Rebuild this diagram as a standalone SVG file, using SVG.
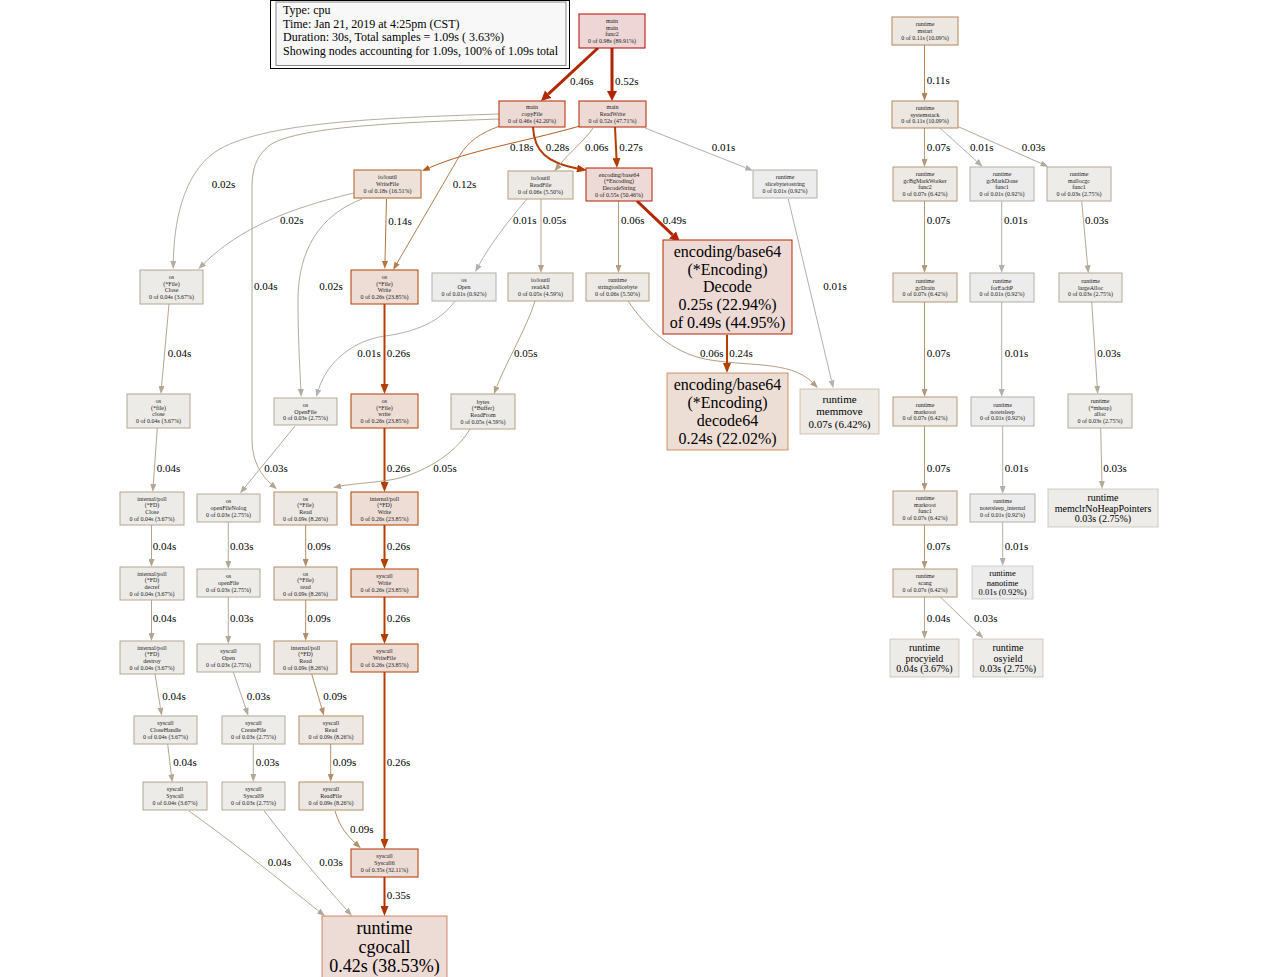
<svg xmlns="http://www.w3.org/2000/svg" width="1263" height="977" viewBox="0 0 1263 977">
<style>
text{font-family:"Liberation Serif","Times New Roman",serif}
.t{font-size:6px;fill:#222;text-anchor:middle}
.big{fill:#000;text-anchor:middle}
.l{font-size:11px;fill:#000}
.lg{font-size:12px;fill:#000}
.e{fill:none;stroke-width:1}
.w2{stroke-width:2}.w3{stroke-width:3}
rect{stroke-width:1}
.leaf{stroke-opacity:0.55}
.k98{fill:#edd6d5;stroke:#b20500}.k46{fill:#eddad5;stroke:#b22800}.k52{fill:#eddad5;stroke:#b22300}
.k55{fill:#edd9d5;stroke:#b22100}.k49{fill:#eddad5;stroke:#b22600}.k42{fill:#eddbd5;stroke:#b22c00}
.k35{fill:#eddcd5;stroke:#b23300}.k26{fill:#edddd5;stroke:#b23e00}.k24{fill:#edded5;stroke:#b24100}
.k18{fill:#ede1d9;stroke:#b25c1f}.k11{fill:#ede7e1;stroke:#b28558}.k09{fill:#ede8e3;stroke:#b28f68}
.k07{fill:#ede9e5;stroke:#b29979}.k06{fill:#edeae6;stroke:#b29d81}.k05{fill:#edebe7;stroke:#b2a289}
.k04{fill:#edebe8;stroke:#b2a691}.k03{fill:#edece9;stroke:#b2aa99}.k01{fill:#edecec;stroke:#b2b0aa}
.c2300{stroke:#b22300}.c2800{stroke:#b22800}.c2600{stroke:#b22600}.c3300{stroke:#b23300}
.c3b00{stroke:#b23b00}.c3d00{stroke:#b23d00}.c3e00{stroke:#b23e00}.c4100{stroke:#b24100}
.c5c1f{stroke:#b25c1f}.c743f{stroke:#b2743f}.c7f50{stroke:#b27f50}.c8558{stroke:#b28558}
.c8f68{stroke:#b28f68}.c9979{stroke:#b29979}.c9d81{stroke:#b29d81}.ca289{stroke:#b2a289}
.ca691{stroke:#b2a691}.caa99{stroke:#b2aa99}.cada2{stroke:#b2ada2}.cb0aa{stroke:#b2b0aa}
</style>
<defs>
<marker id="a2300" viewBox="0 0 10 10" refX="0" refY="5" markerWidth="10" markerHeight="10" markerUnits="userSpaceOnUse" orient="auto"><path d="M0,0L10,5L0,10z" fill="#b22300"/></marker>
<marker id="a2800" viewBox="0 0 10 10" refX="0" refY="5" markerWidth="10" markerHeight="10" markerUnits="userSpaceOnUse" orient="auto"><path d="M0,0L10,5L0,10z" fill="#b22800"/></marker>
<marker id="a2600" viewBox="0 0 10 10" refX="0" refY="5" markerWidth="10" markerHeight="10" markerUnits="userSpaceOnUse" orient="auto"><path d="M0,0L10,5L0,10z" fill="#b22600"/></marker>
<marker id="a3300" viewBox="0 0 10 8" refX="0" refY="4" markerWidth="10" markerHeight="8" markerUnits="userSpaceOnUse" orient="auto"><path d="M0,0L10,4L0,8z" fill="#b23300"/></marker>
<marker id="a3b00" viewBox="0 0 10 8" refX="0" refY="4" markerWidth="10" markerHeight="8" markerUnits="userSpaceOnUse" orient="auto"><path d="M0,0L10,4L0,8z" fill="#b23b00"/></marker>
<marker id="a3d00" viewBox="0 0 10 8" refX="0" refY="4" markerWidth="10" markerHeight="8" markerUnits="userSpaceOnUse" orient="auto"><path d="M0,0L10,4L0,8z" fill="#b23d00"/></marker>
<marker id="a3e00" viewBox="0 0 10 8" refX="0" refY="4" markerWidth="10" markerHeight="8" markerUnits="userSpaceOnUse" orient="auto"><path d="M0,0L10,4L0,8z" fill="#b23e00"/></marker>
<marker id="a4100" viewBox="0 0 10 8" refX="0" refY="4" markerWidth="10" markerHeight="8" markerUnits="userSpaceOnUse" orient="auto"><path d="M0,0L10,4L0,8z" fill="#b24100"/></marker>
<marker id="a5c1f" viewBox="0 0 8 6" refX="0" refY="3" markerWidth="8" markerHeight="6" markerUnits="userSpaceOnUse" orient="auto"><path d="M0,0L8,3L0,6z" fill="#b25c1f"/></marker>
<marker id="a743f" viewBox="0 0 8 6" refX="0" refY="3" markerWidth="8" markerHeight="6" markerUnits="userSpaceOnUse" orient="auto"><path d="M0,0L8,3L0,6z" fill="#b2743f"/></marker>
<marker id="a7f50" viewBox="0 0 8 6" refX="0" refY="3" markerWidth="8" markerHeight="6" markerUnits="userSpaceOnUse" orient="auto"><path d="M0,0L8,3L0,6z" fill="#b27f50"/></marker>
<marker id="a8558" viewBox="0 0 8 6" refX="0" refY="3" markerWidth="8" markerHeight="6" markerUnits="userSpaceOnUse" orient="auto"><path d="M0,0L8,3L0,6z" fill="#b28558"/></marker>
<marker id="a8f68" viewBox="0 0 8 6" refX="0" refY="3" markerWidth="8" markerHeight="6" markerUnits="userSpaceOnUse" orient="auto"><path d="M0,0L8,3L0,6z" fill="#b28f68"/></marker>
<marker id="a9979" viewBox="0 0 8 6" refX="0" refY="3" markerWidth="8" markerHeight="6" markerUnits="userSpaceOnUse" orient="auto"><path d="M0,0L8,3L0,6z" fill="#b29979"/></marker>
<marker id="a9d81" viewBox="0 0 8 6" refX="0" refY="3" markerWidth="8" markerHeight="6" markerUnits="userSpaceOnUse" orient="auto"><path d="M0,0L8,3L0,6z" fill="#b29d81"/></marker>
<marker id="aa289" viewBox="0 0 8 6" refX="0" refY="3" markerWidth="8" markerHeight="6" markerUnits="userSpaceOnUse" orient="auto"><path d="M0,0L8,3L0,6z" fill="#b2a289"/></marker>
<marker id="aa691" viewBox="0 0 8 6" refX="0" refY="3" markerWidth="8" markerHeight="6" markerUnits="userSpaceOnUse" orient="auto"><path d="M0,0L8,3L0,6z" fill="#b2a691"/></marker>
<marker id="aaa99" viewBox="0 0 8 6" refX="0" refY="3" markerWidth="8" markerHeight="6" markerUnits="userSpaceOnUse" orient="auto"><path d="M0,0L8,3L0,6z" fill="#b2aa99"/></marker>
<marker id="aada2" viewBox="0 0 8 6" refX="0" refY="3" markerWidth="8" markerHeight="6" markerUnits="userSpaceOnUse" orient="auto"><path d="M0,0L8,3L0,6z" fill="#b2ada2"/></marker>
<marker id="ab0aa" viewBox="0 0 8 6" refX="0" refY="3" markerWidth="8" markerHeight="6" markerUnits="userSpaceOnUse" orient="auto"><path d="M0,0L8,3L0,6z" fill="#b2b0aa"/></marker>
</defs>
<rect width="1263" height="977" fill="#ffffff" stroke="none"/>

<g id="legend">
<rect x="270.5" y="0.5" width="299" height="68" fill="#ffffff" stroke="#000"/>
<rect x="276" y="2" width="290" height="63.5" fill="#f8f8f8" stroke="#888" stroke-width="1.5"/>
<text class="lg" x="283" y="14">Type: cpu</text>
<text class="lg" x="283" y="28">Time: Jan 21, 2019 at 4:25pm (CST)</text>
<text class="lg" x="283" y="41">Duration: 30s, Total samples = 1.09s ( 3.63%)</text>
<text class="lg" x="283" y="55">Showing nodes accounting for 1.09s, 100% of 1.09s total</text>
</g>

<g id="edges">
<path class="e w3 c2800" marker-end="url(#a2800)" d="M598,48 L548.3,94.2"/>
<path class="e w3 c2300" marker-end="url(#a2300)" d="M612,48 L612,91"/>
<path class="e w2 c3b00" marker-end="url(#a3b00)" d="M533,127 C534,152 548,163 577,168.5"/>
<path class="e c5c1f" marker-end="url(#a5c1f)" d="M580,126 C520,143 470,150 429.3,167.8"/>
<path class="e c9d81" marker-end="url(#a9d81)" d="M593,128 C585,140 570,152 559.4,165.1"/>
<path class="e w2 c3d00" marker-end="url(#a3d00)" d="M615,127 L616.5,158"/>
<path class="e cb0aa" marker-end="url(#ab0aa)" d="M645,128 L745.6,167.7"/>
<path class="e c7f50" marker-end="url(#a7f50)" d="M500,126 C480,133 468,142 460,155 L397.1,263.1"/>
<path class="e cada2" marker-end="url(#aada2)" d="M499,114 C380,118 260,122 215,152 C182,175 174,225 173.3,261"/>
<path class="e ca691" marker-end="url(#aa691)" d="M499,119 C420,122 300,125 270,145 C255,157 252,170 252,190 L252,440 C252,462 262,476 271,484"/>
<path class="e cada2" marker-end="url(#aada2)" d="M354,193 C290,208 240,228 204,263.5"/>
<path class="e c743f" marker-end="url(#a743f)" d="M386.5,199 L385,261"/>
<path class="e cada2" marker-end="url(#aada2)" d="M362,199 C320,215 298,250 298,300 C298,340 300,370 300.8,389"/>
<path class="e cb0aa" marker-end="url(#ab0aa)" d="M455,301 C440,322 415,332 385,336 C355,340 328,360 318.5,389.5"/>
<path class="e cb0aa" marker-end="url(#ab0aa)" d="M527,199 C505,225 490,245 479,265"/>
<path class="e ca289" marker-end="url(#aa289)" d="M541,199 L541,265"/>
<path class="e c9d81" marker-end="url(#a9d81)" d="M618.5,201 L618.5,265"/>
<path class="e w3 c2600" marker-end="url(#a2600)" d="M637,201 L672.6,234.9"/>
<path class="e cb0aa" marker-end="url(#ab0aa)" d="M788.3,199 L831.5,380.5"/>
<path class="e c9d81" marker-end="url(#a9d81)" d="M628,301 C648,330 672,352 705,359 C745,367 790,360 812.3,382.3"/>
<path class="e w2 c4100" marker-end="url(#a4100)" d="M727,335 L727,363"/>
<path class="e w2 c3e00" marker-end="url(#a3e00)" d="M384.5,304 L384.5,384"/>
<path class="e ca289" marker-end="url(#aa289)" d="M535,301 C528,325 505,365 496.7,386.7"/>
<path class="e ca691" marker-end="url(#aa691)" d="M169,304 L161.6,386"/>
<path class="e w2 c3e00" marker-end="url(#a3e00)" d="M384.5,428 L384.5,482"/>
<path class="e ca289" marker-end="url(#aa289)" d="M470,429 C455,455 420,475 390,480 C370,483 350,484 341,486"/>
<path class="e caa99" marker-end="url(#aaa99)" d="M295,426 L245.1,487.1"/>
<path class="e ca691" marker-end="url(#aa691)" d="M157.3,428 L153.3,484"/>
<path class="e ca691" marker-end="url(#aa691)" d="M151.5,525 L151.5,559"/>
<path class="e caa99" marker-end="url(#aaa99)" d="M228.3,522 L228.3,561"/>
<path class="e c8f68" marker-end="url(#a8f68)" d="M305.7,525 L305.7,559"/>
<path class="e w2 c3e00" marker-end="url(#a3e00)" d="M384.5,525 L384.5,559"/>
<path class="e ca691" marker-end="url(#aa691)" d="M151.5,600 L151.5,633"/>
<path class="e caa99" marker-end="url(#aaa99)" d="M228.3,597 L228.3,636"/>
<path class="e c8f68" marker-end="url(#a8f68)" d="M305.7,600 L305.7,633"/>
<path class="e w2 c3e00" marker-end="url(#a3e00)" d="M384.5,597 L384.5,634"/>
<path class="e ca691" marker-end="url(#aa691)" d="M155,674 L160.4,707.8"/>
<path class="e caa99" marker-end="url(#aaa99)" d="M233.3,672 L245.7,708.1"/>
<path class="e c8f68" marker-end="url(#a8f68)" d="M311.7,674 L321.7,708"/>
<path class="e ca691" marker-end="url(#aa691)" d="M167.7,744 L171.3,774.4"/>
<path class="e caa99" marker-end="url(#aaa99)" d="M253.3,744 L253.3,774"/>
<path class="e c8f68" marker-end="url(#a8f68)" d="M330.7,744 L330.7,774"/>
<path class="e w2 c3e00" marker-end="url(#a3e00)" d="M384.5,672 L384.5,839"/>
<path class="e c8f68" marker-end="url(#a8f68)" d="M335,811 C340,828 348,836 355,842.7"/>
<path class="e ca691" marker-end="url(#aa691)" d="M189,811 C230,840 280,880 318.7,911.1"/>
<path class="e caa99" marker-end="url(#aaa99)" d="M264.3,811 C290,845 320,880 346.6,909.8"/>
<path class="e w2 c3300" marker-end="url(#a3300)" d="M384.5,877 L384.5,906"/>
<path class="e c8558" marker-end="url(#a8558)" d="M924.5,45 L924.5,93"/>
<path class="e c9979" marker-end="url(#a9979)" d="M924.5,128 L924.5,159"/>
<path class="e cb0aa" marker-end="url(#ab0aa)" d="M940,128 L976.7,161.3"/>
<path class="e caa99" marker-end="url(#aaa99)" d="M958.3,126.7 L1041,163.4"/>
<path class="e c9979" marker-end="url(#a9979)" d="M924.5,201 L924.5,265"/>
<path class="e cb0aa" marker-end="url(#ab0aa)" d="M1001.7,201 L1001.7,265"/>
<path class="e caa99" marker-end="url(#aaa99)" d="M1081.7,201.3 L1087.6,265.3"/>
<path class="e c9979" marker-end="url(#a9979)" d="M924.5,302 L924.5,389"/>
<path class="e cb0aa" marker-end="url(#ab0aa)" d="M1001.7,302 L1001.7,389"/>
<path class="e caa99" marker-end="url(#aaa99)" d="M1091.7,301.7 L1097.2,386"/>
<path class="e c9979" marker-end="url(#a9979)" d="M924.5,426 L924.5,483"/>
<path class="e cb0aa" marker-end="url(#ab0aa)" d="M1002.7,426 L1002.7,486"/>
<path class="e caa99" marker-end="url(#aaa99)" d="M1100.7,428 L1101.9,481"/>
<path class="e c9979" marker-end="url(#a9979)" d="M924.5,525 L924.5,561"/>
<path class="e cb0aa" marker-end="url(#ab0aa)" d="M1002.7,522 L1002.7,558"/>
<path class="e ca691" marker-end="url(#aa691)" d="M924.5,597 L924.5,631"/>
<path class="e caa99" marker-end="url(#aaa99)" d="M940,596.7 L977.5,632.8"/>
<g id="edge-labels">
<text class="l" x="570" y="85">0.46s</text>
<text class="l" x="615" y="85">0.52s</text>
<text class="l" x="510" y="151">0.18s</text>
<text class="l" x="545.7" y="151">0.28s</text>
<text class="l" x="585" y="151">0.06s</text>
<text class="l" x="619.3" y="151">0.27s</text>
<text class="l" x="711.7" y="151">0.01s</text>
<text class="l" x="452.7" y="188">0.12s</text>
<text class="l" x="211.7" y="188">0.02s</text>
<text class="l" x="280" y="224">0.02s</text>
<text class="l" x="388.3" y="225">0.14s</text>
<text class="l" x="513" y="224">0.01s</text>
<text class="l" x="542.7" y="224">0.05s</text>
<text class="l" x="621" y="224">0.06s</text>
<text class="l" x="662.7" y="224">0.49s</text>
<text class="l" x="254" y="290">0.04s</text>
<text class="l" x="319.3" y="290">0.02s</text>
<text class="l" x="823.3" y="290">0.01s</text>
<text class="l" x="167.7" y="357">0.04s</text>
<text class="l" x="357.3" y="357">0.01s</text>
<text class="l" x="386.7" y="357">0.26s</text>
<text class="l" x="514" y="357">0.05s</text>
<text class="l" x="700" y="357" font-size="10">0.06s</text>
<text class="l" x="729.3" y="357" font-size="10">0.24s</text>
<text class="l" x="156.7" y="472">0.04s</text>
<text class="l" x="264.3" y="472">0.03s</text>
<text class="l" x="386.7" y="472">0.26s</text>
<text class="l" x="433.3" y="472">0.05s</text>
<text class="l" x="152.7" y="550">0.04s</text>
<text class="l" x="230" y="550">0.03s</text>
<text class="l" x="307.3" y="550">0.09s</text>
<text class="l" x="386.7" y="550">0.26s</text>
<text class="l" x="152.7" y="622">0.04s</text>
<text class="l" x="230" y="622">0.03s</text>
<text class="l" x="307.3" y="622">0.09s</text>
<text class="l" x="386.7" y="622">0.26s</text>
<text class="l" x="162.3" y="700">0.04s</text>
<text class="l" x="246.7" y="700">0.03s</text>
<text class="l" x="323.3" y="700">0.09s</text>
<text class="l" x="173.3" y="766">0.04s</text>
<text class="l" x="255.7" y="766">0.03s</text>
<text class="l" x="332.7" y="766">0.09s</text>
<text class="l" x="386.7" y="766">0.26s</text>
<text class="l" x="350" y="833">0.09s</text>
<text class="l" x="267.7" y="866">0.04s</text>
<text class="l" x="319.3" y="866">0.03s</text>
<text class="l" x="386.7" y="899">0.35s</text>
<text class="l" x="926.7" y="84">0.11s</text>
<text class="l" x="926.7" y="151">0.07s</text>
<text class="l" x="970" y="151">0.01s</text>
<text class="l" x="1021.7" y="151">0.03s</text>
<text class="l" x="926.7" y="224">0.07s</text>
<text class="l" x="1004" y="224">0.01s</text>
<text class="l" x="1085" y="224">0.03s</text>
<text class="l" x="926.7" y="357">0.07s</text>
<text class="l" x="1004.7" y="357">0.01s</text>
<text class="l" x="1097.3" y="357">0.03s</text>
<text class="l" x="926.7" y="472">0.07s</text>
<text class="l" x="1004.7" y="472">0.01s</text>
<text class="l" x="1103.3" y="472">0.03s</text>
<text class="l" x="926.7" y="550">0.07s</text>
<text class="l" x="1004.7" y="550">0.01s</text>
<text class="l" x="926.7" y="622">0.04s</text>
<text class="l" x="974" y="622">0.03s</text>
</g>
</g>

<g id="node-main-func2"><rect class="k98" x="579" y="14" width="66" height="34"/><text class="t" y="23"><tspan x="612">main</tspan><tspan x="612" dy="6.7">main</tspan><tspan x="612" dy="6.7">func2</tspan><tspan x="612" dy="6.7">0 of 0.98s (89.91%)</tspan></text></g>
<g id="node-main-copyFile"><rect class="k46" x="499" y="101" width="66" height="26"/><text class="t" y="109.3"><tspan x="532">main</tspan><tspan x="532" dy="6.7">copyFile</tspan><tspan x="532" dy="6.7">0 of 0.46s (42.20%)</tspan></text></g>
<g id="node-main-ReadWrite"><rect class="k52" x="579" y="101" width="67" height="26"/><text class="t" y="109.3"><tspan x="612.5">main</tspan><tspan x="612.5" dy="6.7">ReadWrite</tspan><tspan x="612.5" dy="6.7">0 of 0.52s (47.71%)</tspan></text></g>
<g id="node-ioutil-WriteFile"><rect class="k18" x="354" y="170" width="67" height="28"/><text class="t" y="179.3"><tspan x="387.5">io/ioutil</tspan><tspan x="387.5" dy="6.7">WriteFile</tspan><tspan x="387.5" dy="6.7">0 of 0.18s (16.51%)</tspan></text></g>
<g id="node-ioutil-ReadFile"><rect class="k06" x="508" y="171" width="65" height="28"/><text class="t" y="180.3"><tspan x="540.5">io/ioutil</tspan><tspan x="540.5" dy="6.7">ReadFile</tspan><tspan x="540.5" dy="6.7">0 of 0.06s (5.50%)</tspan></text></g>
<g id="node-base64-DecodeString"><rect class="k55" x="586" y="168" width="66" height="33"/><text class="t" y="176.5"><tspan x="619">encoding/base64</tspan><tspan x="619" dy="6.7">(*Encoding)</tspan><tspan x="619" dy="6.7">DecodeString</tspan><tspan x="619" dy="6.7">0 of 0.55s (50.46%)</tspan></text></g>
<g id="node-runtime-slicebytetostring"><rect class="k01" x="753" y="170" width="64" height="28"/><text class="t" y="179.3"><tspan x="785">runtime</tspan><tspan x="785" dy="6.7">slicebytetostring</tspan><tspan x="785" dy="6.7">0 of 0.01s (0.92%)</tspan></text></g>
<g id="node-base64-Decode"><rect class="k49" x="663" y="240" width="129" height="94"/><text class="big" font-size="16" y="257"><tspan x="727.5">encoding/base64</tspan><tspan x="727.5" dy="17.7">(*Encoding)</tspan><tspan x="727.5" dy="17.7">Decode</tspan><tspan x="727.5" dy="17.7">0.25s (22.94%)</tspan><tspan x="727.5" dy="17.7">of 0.49s (44.95%)</tspan></text></g>
<g id="node-os-File-Close"><rect class="k04" x="140" y="270" width="63" height="34"/><text class="t" y="279"><tspan x="171.5">os</tspan><tspan x="171.5" dy="6.7">(*File)</tspan><tspan x="171.5" dy="6.7">Close</tspan><tspan x="171.5" dy="6.7">0 of 0.04s (3.67%)</tspan></text></g>
<g id="node-os-File-Write"><rect class="k26" x="351" y="270" width="67" height="34"/><text class="t" y="279"><tspan x="384.5">os</tspan><tspan x="384.5" dy="6.7">(*File)</tspan><tspan x="384.5" dy="6.7">Write</tspan><tspan x="384.5" dy="6.7">0 of 0.26s (23.85%)</tspan></text></g>
<g id="node-os-Open"><rect class="k01" x="432" y="273" width="64" height="28"/><text class="t" y="282.3"><tspan x="464">os</tspan><tspan x="464" dy="6.7">Open</tspan><tspan x="464" dy="6.7">0 of 0.01s (0.92%)</tspan></text></g>
<g id="node-ioutil-readAll"><rect class="k05" x="508" y="273" width="65" height="28"/><text class="t" y="282.3"><tspan x="540.5">io/ioutil</tspan><tspan x="540.5" dy="6.7">readAll</tspan><tspan x="540.5" dy="6.7">0 of 0.05s (4.59%)</tspan></text></g>
<g id="node-runtime-stringtoslicebyte"><rect class="k06" x="586" y="273" width="63" height="28"/><text class="t" y="282.3"><tspan x="617.5">runtime</tspan><tspan x="617.5" dy="6.7">stringtoslicebyte</tspan><tspan x="617.5" dy="6.7">0 of 0.06s (5.50%)</tspan></text></g>
<g id="node-runtime-mstart"><rect class="k11" x="892" y="17" width="66" height="28"/><text class="t" y="26.3"><tspan x="925">runtime</tspan><tspan x="925" dy="6.7">mstart</tspan><tspan x="925" dy="6.7">0 of 0.11s (10.09%)</tspan></text></g>
<g id="node-runtime-systemstack"><rect class="k11" x="892" y="101" width="66" height="27"/><text class="t" y="109.8"><tspan x="925">runtime</tspan><tspan x="925" dy="6.7">systemstack</tspan><tspan x="925" dy="6.7">0 of 0.11s (10.09%)</tspan></text></g>
<g id="node-runtime-gcBgMarkWorker-func2"><rect class="k07" x="893" y="167" width="64" height="34"/><text class="t" y="176"><tspan x="925">runtime</tspan><tspan x="925" dy="6.7">gcBgMarkWorker</tspan><tspan x="925" dy="6.7">func2</tspan><tspan x="925" dy="6.7">0 of 0.07s (6.42%)</tspan></text></g>
<g id="node-runtime-gcMarkDone-func1"><rect class="k01" x="970" y="167" width="64" height="34"/><text class="t" y="176"><tspan x="1002">runtime</tspan><tspan x="1002" dy="6.7">gcMarkDone</tspan><tspan x="1002" dy="6.7">func1</tspan><tspan x="1002" dy="6.7">0 of 0.01s (0.92%)</tspan></text></g>
<g id="node-runtime-mallocgc-func1"><rect class="k03" x="1047" y="167" width="64" height="34"/><text class="t" y="176"><tspan x="1079">runtime</tspan><tspan x="1079" dy="6.7">mallocgc</tspan><tspan x="1079" dy="6.7">func1</tspan><tspan x="1079" dy="6.7">0 of 0.03s (2.75%)</tspan></text></g>
<g id="node-runtime-gcDrain"><rect class="k07" x="893" y="273" width="64" height="29"/><text class="t" y="282.8"><tspan x="925">runtime</tspan><tspan x="925" dy="6.7">gcDrain</tspan><tspan x="925" dy="6.7">0 of 0.07s (6.42%)</tspan></text></g>
<g id="node-runtime-forEachP"><rect class="k01" x="970" y="273" width="64" height="29"/><text class="t" y="282.8"><tspan x="1002">runtime</tspan><tspan x="1002" dy="6.7">forEachP</tspan><tspan x="1002" dy="6.7">0 of 0.01s (0.92%)</tspan></text></g>
<g id="node-runtime-largeAlloc"><rect class="k03" x="1059" y="273" width="63" height="29"/><text class="t" y="282.8"><tspan x="1090.5">runtime</tspan><tspan x="1090.5" dy="6.7">largeAlloc</tspan><tspan x="1090.5" dy="6.7">0 of 0.03s (2.75%)</tspan></text></g>
<g id="node-runtime-markroot"><rect class="k07" x="893" y="397" width="64" height="29"/><text class="t" y="406.8"><tspan x="925">runtime</tspan><tspan x="925" dy="6.7">markroot</tspan><tspan x="925" dy="6.7">0 of 0.07s (6.42%)</tspan></text></g>
<g id="node-runtime-notetsleep"><rect class="k01" x="971" y="397" width="63" height="29"/><text class="t" y="406.8"><tspan x="1002.5">runtime</tspan><tspan x="1002.5" dy="6.7">notetsleep</tspan><tspan x="1002.5" dy="6.7">0 of 0.01s (0.92%)</tspan></text></g>
<g id="node-runtime-mheap-alloc"><rect class="k03" x="1068" y="394" width="64" height="34"/><text class="t" y="403"><tspan x="1100">runtime</tspan><tspan x="1100" dy="6.7">(*mheap)</tspan><tspan x="1100" dy="6.7">alloc</tspan><tspan x="1100" dy="6.7">0 of 0.03s (2.75%)</tspan></text></g>
<g id="node-runtime-memclrNoHeapPointers"><rect class="k03 leaf" x="1048" y="489" width="110" height="38"/><text class="big" font-size="10" y="501"><tspan x="1103">runtime</tspan><tspan x="1103" dy="10.5">memclrNoHeapPointers</tspan><tspan x="1103" dy="10.5">0.03s (2.75%)</tspan></text></g>
<g id="node-runtime-markroot-func1"><rect class="k07" x="893" y="491" width="64" height="34"/><text class="t" y="500"><tspan x="925">runtime</tspan><tspan x="925" dy="6.7">markroot</tspan><tspan x="925" dy="6.7">func1</tspan><tspan x="925" dy="6.7">0 of 0.07s (6.42%)</tspan></text></g>
<g id="node-runtime-notetsleep_internal"><rect class="k01" x="970" y="494" width="65" height="28"/><text class="t" y="503.3"><tspan x="1002.5">runtime</tspan><tspan x="1002.5" dy="6.7">notetsleep_internal</tspan><tspan x="1002.5" dy="6.7">0 of 0.01s (0.92%)</tspan></text></g>
<g id="node-runtime-nanotime"><rect class="k01 leaf" x="972" y="566" width="61" height="33"/><text class="big" font-size="8.5" y="576"><tspan x="1002.5">runtime</tspan><tspan x="1002.5" dy="9.5">nanotime</tspan><tspan x="1002.5" dy="9.5">0.01s (0.92%)</tspan></text></g>
<g id="node-runtime-scang"><rect class="k07" x="893" y="569" width="64" height="28"/><text class="t" y="578.3"><tspan x="925">runtime</tspan><tspan x="925" dy="6.7">scang</tspan><tspan x="925" dy="6.7">0 of 0.07s (6.42%)</tspan></text></g>
<g id="node-runtime-procyield"><rect class="k04 leaf" x="890" y="639" width="69" height="38"/><text class="big" font-size="10" y="651"><tspan x="924.5">runtime</tspan><tspan x="924.5" dy="10.5">procyield</tspan><tspan x="924.5" dy="10.5">0.04s (3.67%)</tspan></text></g>
<g id="node-runtime-osyield"><rect class="k03 leaf" x="973" y="639" width="70" height="38"/><text class="big" font-size="10" y="651"><tspan x="1008">runtime</tspan><tspan x="1008" dy="10.5">osyield</tspan><tspan x="1008" dy="10.5">0.03s (2.75%)</tspan></text></g>
<g id="node-os-file-close"><rect class="k04" x="127" y="394" width="63" height="34"/><text class="t" y="403"><tspan x="158.5">os</tspan><tspan x="158.5" dy="6.7">(*file)</tspan><tspan x="158.5" dy="6.7">close</tspan><tspan x="158.5" dy="6.7">0 of 0.04s (3.67%)</tspan></text></g>
<g id="node-os-OpenFile"><rect class="k03" x="274" y="398" width="63" height="27"/><text class="t" y="406.8"><tspan x="305.5">os</tspan><tspan x="305.5" dy="6.7">OpenFile</tspan><tspan x="305.5" dy="6.7">0 of 0.03s (2.75%)</tspan></text></g>
<g id="node-os-File-write"><rect class="k26" x="351" y="394" width="67" height="34"/><text class="t" y="403"><tspan x="384.5">os</tspan><tspan x="384.5" dy="6.7">(*File)</tspan><tspan x="384.5" dy="6.7">write</tspan><tspan x="384.5" dy="6.7">0 of 0.26s (23.85%)</tspan></text></g>
<g id="node-bytes-Buffer-ReadFrom"><rect class="k05" x="451" y="394" width="64" height="35"/><text class="t" y="403.5"><tspan x="483">bytes</tspan><tspan x="483" dy="6.7">(*Buffer)</tspan><tspan x="483" dy="6.7">ReadFrom</tspan><tspan x="483" dy="6.7">0 of 0.05s (4.59%)</tspan></text></g>
<g id="node-runtime-memmove"><rect class="k07 leaf" x="800" y="389" width="79" height="45"/><text class="big" font-size="11" y="402.7"><tspan x="839.5">runtime</tspan><tspan x="839.5" dy="12.5">memmove</tspan><tspan x="839.5" dy="12.5">0.07s (6.42%)</tspan></text></g>
<g id="node-base64-decode64"><rect class="k24 leaf" x="667" y="373" width="121" height="77"/><text class="big" font-size="16" y="390"><tspan x="727.5">encoding/base64</tspan><tspan x="727.5" dy="18">(*Encoding)</tspan><tspan x="727.5" dy="18">decode64</tspan><tspan x="727.5" dy="18">0.24s (22.02%)</tspan></text></g>
<g id="node-poll-FD-Close"><rect class="k04" x="120" y="492" width="64" height="33"/><text class="t" y="500.5"><tspan x="152">internal/poll</tspan><tspan x="152" dy="6.7">(*FD)</tspan><tspan x="152" dy="6.7">Close</tspan><tspan x="152" dy="6.7">0 of 0.04s (3.67%)</tspan></text></g>
<g id="node-os-openFileNolog"><rect class="k03" x="197" y="494" width="63" height="28"/><text class="t" y="503.3"><tspan x="228.5">os</tspan><tspan x="228.5" dy="6.7">openFileNolog</tspan><tspan x="228.5" dy="6.7">0 of 0.03s (2.75%)</tspan></text></g>
<g id="node-os-File-Read"><rect class="k09" x="274" y="492" width="63" height="33"/><text class="t" y="500.5"><tspan x="305.5">os</tspan><tspan x="305.5" dy="6.7">(*File)</tspan><tspan x="305.5" dy="6.7">Read</tspan><tspan x="305.5" dy="6.7">0 of 0.09s (8.26%)</tspan></text></g>
<g id="node-poll-FD-Write"><rect class="k26" x="351" y="492" width="67" height="33"/><text class="t" y="500.5"><tspan x="384.5">internal/poll</tspan><tspan x="384.5" dy="6.7">(*FD)</tspan><tspan x="384.5" dy="6.7">Write</tspan><tspan x="384.5" dy="6.7">0 of 0.26s (23.85%)</tspan></text></g>
<g id="node-poll-FD-decref"><rect class="k04" x="120" y="567" width="64" height="33"/><text class="t" y="575.5"><tspan x="152">internal/poll</tspan><tspan x="152" dy="6.7">(*FD)</tspan><tspan x="152" dy="6.7">decref</tspan><tspan x="152" dy="6.7">0 of 0.04s (3.67%)</tspan></text></g>
<g id="node-os-openFile"><rect class="k03" x="197" y="569" width="63" height="28"/><text class="t" y="578.3"><tspan x="228.5">os</tspan><tspan x="228.5" dy="6.7">openFile</tspan><tspan x="228.5" dy="6.7">0 of 0.03s (2.75%)</tspan></text></g>
<g id="node-os-File-read"><rect class="k09" x="274" y="567" width="63" height="33"/><text class="t" y="575.5"><tspan x="305.5">os</tspan><tspan x="305.5" dy="6.7">(*File)</tspan><tspan x="305.5" dy="6.7">read</tspan><tspan x="305.5" dy="6.7">0 of 0.09s (8.26%)</tspan></text></g>
<g id="node-syscall-Write"><rect class="k26" x="351" y="569" width="67" height="28"/><text class="t" y="578.3"><tspan x="384.5">syscall</tspan><tspan x="384.5" dy="6.7">Write</tspan><tspan x="384.5" dy="6.7">0 of 0.26s (23.85%)</tspan></text></g>
<g id="node-poll-FD-destroy"><rect class="k04" x="120" y="641" width="64" height="33"/><text class="t" y="649.5"><tspan x="152">internal/poll</tspan><tspan x="152" dy="6.7">(*FD)</tspan><tspan x="152" dy="6.7">destroy</tspan><tspan x="152" dy="6.7">0 of 0.04s (3.67%)</tspan></text></g>
<g id="node-syscall-Open"><rect class="k03" x="197" y="644" width="63" height="28"/><text class="t" y="653.3"><tspan x="228.5">syscall</tspan><tspan x="228.5" dy="6.7">Open</tspan><tspan x="228.5" dy="6.7">0 of 0.03s (2.75%)</tspan></text></g>
<g id="node-poll-FD-Read"><rect class="k09" x="274" y="641" width="63" height="33"/><text class="t" y="649.5"><tspan x="305.5">internal/poll</tspan><tspan x="305.5" dy="6.7">(*FD)</tspan><tspan x="305.5" dy="6.7">Read</tspan><tspan x="305.5" dy="6.7">0 of 0.09s (8.26%)</tspan></text></g>
<g id="node-syscall-WriteFile"><rect class="k26" x="351" y="644" width="67" height="28"/><text class="t" y="653.3"><tspan x="384.5">syscall</tspan><tspan x="384.5" dy="6.7">WriteFile</tspan><tspan x="384.5" dy="6.7">0 of 0.26s (23.85%)</tspan></text></g>
<g id="node-syscall-CloseHandle"><rect class="k04" x="134" y="716" width="63" height="28"/><text class="t" y="725.3"><tspan x="165.5">syscall</tspan><tspan x="165.5" dy="6.7">CloseHandle</tspan><tspan x="165.5" dy="6.7">0 of 0.04s (3.67%)</tspan></text></g>
<g id="node-syscall-CreateFile"><rect class="k03" x="222" y="716" width="63" height="28"/><text class="t" y="725.3"><tspan x="253.5">syscall</tspan><tspan x="253.5" dy="6.7">CreateFile</tspan><tspan x="253.5" dy="6.7">0 of 0.03s (2.75%)</tspan></text></g>
<g id="node-syscall-Read"><rect class="k09" x="299" y="716" width="64" height="28"/><text class="t" y="725.3"><tspan x="331">syscall</tspan><tspan x="331" dy="6.7">Read</tspan><tspan x="331" dy="6.7">0 of 0.09s (8.26%)</tspan></text></g>
<g id="node-syscall-Syscall"><rect class="k04" x="143" y="782" width="64" height="28"/><text class="t" y="791.3"><tspan x="175">syscall</tspan><tspan x="175" dy="6.7">Syscall</tspan><tspan x="175" dy="6.7">0 of 0.04s (3.67%)</tspan></text></g>
<g id="node-syscall-Syscall9"><rect class="k03" x="222" y="782" width="63" height="28"/><text class="t" y="791.3"><tspan x="253.5">syscall</tspan><tspan x="253.5" dy="6.7">Syscall9</tspan><tspan x="253.5" dy="6.7">0 of 0.03s (2.75%)</tspan></text></g>
<g id="node-syscall-ReadFile"><rect class="k09" x="299" y="782" width="64" height="28"/><text class="t" y="791.3"><tspan x="331">syscall</tspan><tspan x="331" dy="6.7">ReadFile</tspan><tspan x="331" dy="6.7">0 of 0.09s (8.26%)</tspan></text></g>
<g id="node-syscall-Syscall6"><rect class="k35" x="351" y="849" width="67" height="28"/><text class="t" y="858.3"><tspan x="384.5">syscall</tspan><tspan x="384.5" dy="6.7">Syscall6</tspan><tspan x="384.5" dy="6.7">0 of 0.35s (32.11%)</tspan></text></g>
<g id="node-runtime-cgocall"><rect class="k42 leaf" x="322" y="916" width="125" height="62"/><text class="big" font-size="18" y="934"><tspan x="384.5">runtime</tspan><tspan x="384.5" dy="19">cgocall</tspan><tspan x="384.5" dy="19">0.42s (38.53%)</tspan></text></g>
</svg>
